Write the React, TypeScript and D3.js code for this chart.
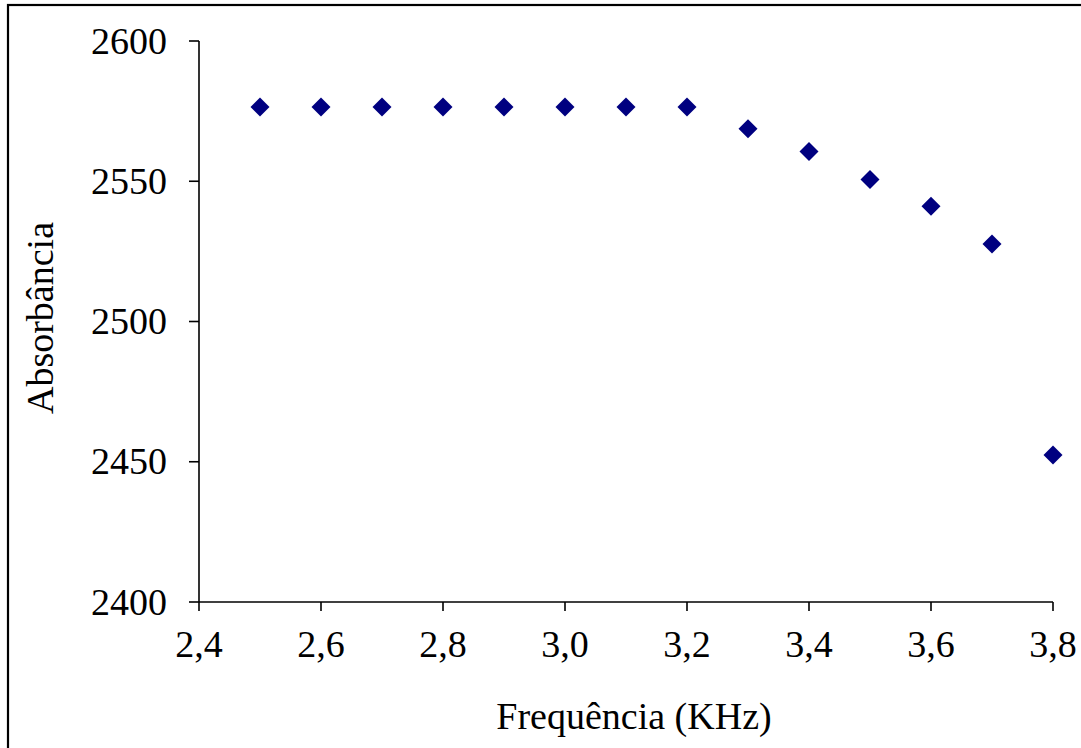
import React from "react";
import * as d3 from "d3";

const frequencies = [2.5, 2.6, 2.7, 2.8, 2.9, 3.0, 3.1, 3.2, 3.3, 3.4, 3.5, 3.6, 3.7, 3.8];
const absorbance = [2576.5, 2576.5, 2576.5, 2576.5, 2576.5, 2576.5, 2576.5, 2576.5, 2568.7, 2560.6, 2550.6, 2541.1, 2527.6, 2452.4];
const xTicks = [2.4, 2.6, 2.8, 3.0, 3.2, 3.4, 3.6, 3.8];
const yTicks = [2400, 2450, 2500, 2550, 2600];

const W = 1081;
const H = 748;
const FONT = "'Liberation Serif', 'Times New Roman', serif";

export default function App() {
  const x = d3.scaleLinear().domain([2.4, 3.8]).range([199, 1053]);
  const y = d3.scaleLinear().domain([2400, 2600]).range([602, 41]);
  const diamond = d3.symbol().type(d3.symbolDiamond2).size(230)();
  const fmt = (v: number) => v.toFixed(1).replace(".", ",");

  return (
    <svg width={W} height={H} style={{ position: "absolute", left: 0, top: 0, background: "#fff" }}>
      <rect x={8} y={5} width={1090} height={760} fill="none" stroke="#000" strokeWidth={2.2} />
      {/* axes */}
      <line x1={x(2.4)} x2={x(2.4)} y1={y(2600)} y2={y(2400)} stroke="#000" strokeWidth={1.6} />
      <line x1={x(2.4)} x2={x(3.8)} y1={y(2400)} y2={y(2400)} stroke="#000" strokeWidth={1.6} />
      {yTicks.map((t) => (
        <g key={"y" + t}>
          <line x1={x(2.4) - 10} x2={x(2.4)} y1={y(t)} y2={y(t)} stroke="#000" strokeWidth={1.6} />
          <text x={167} y={y(t) + 12.5} textAnchor="end" fontFamily={FONT} fontSize={38} fill="#000">
            {t}
          </text>
        </g>
      ))}
      {xTicks.map((t) => (
        <g key={"x" + t}>
          <line x1={x(t)} x2={x(t)} y1={y(2400)} y2={y(2400) + 9} stroke="#000" strokeWidth={1.6} />
          <text x={x(t)} y={657} textAnchor="middle" fontFamily={FONT} fontSize={38} fill="#000">
            {fmt(t)}
          </text>
        </g>
      ))}
      {frequencies.map((f, i) => (
        <path key={"p" + i} d={diamond as string} transform={`translate(${x(f)},${y(absorbance[i])})`} fill="#000080" />
      ))}
      <text x={634} y={729} textAnchor="middle" fontFamily={FONT} fontSize={38} fill="#000">
        Frequência (KHz)
      </text>
      <text
        transform={`translate(53,318) rotate(-90)`}
        textAnchor="middle"
        fontFamily={FONT}
        fontSize={38}
        fill="#000"
      >
        Absorbância
      </text>
    </svg>
  );
}
